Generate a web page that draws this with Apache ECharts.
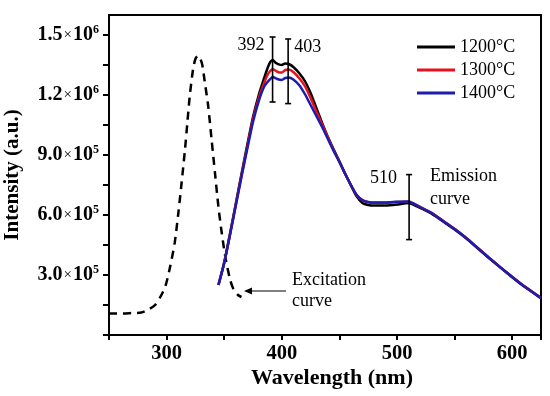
<!DOCTYPE html>
<html>
<head>
<meta charset="utf-8">
<script src="https://cdn.jsdelivr.net/npm/echarts@6/dist/echarts.min.js"></script>
<style>html,body{margin:0;padding:0;background:#fff}#c{width:550px;height:396px}</style>
</head>
<body>
<div id="c"></div>
<script>
// Emission spectra (wavelength nm, intensity a.u.)
const em1200 = [[345,2.5e5],[350,3.62e5],[355,5.05e5],[360,6.55e5],[365,8.05e5],[370,9.5e5],[375,1.09e6],[380,1.2e6],[385,1.29e6],[388,1.34e6],[390,1.365e6],[392,1.375e6],[395,1.36e6],[398,1.352e6],[400,1.35e6],[403,1.358e6],[406,1.355e6],[410,1.34e6],[415,1.31e6],[420,1.27e6],[425,1.21e6],[430,1.135e6],[435,1.06e6],[440,9.9e5],[445,9.28e5],[450,8.68e5],[455,8.07e5],[460,7.48e5],[465,6.93e5],[470,6.6e5],[475,6.5e5],[480,6.47e5],[490,6.47e5],[500,6.52e5],[510,6.6e5],[515,6.5e5],[520,6.36e5],[525,6.22e5],[530,6.07e5],[540,5.68e5],[550,5.27e5],[560,4.83e5],[570,4.33e5],[580,3.84e5],[590,3.36e5],[600,2.89e5],[610,2.44e5],[620,2.04e5],[625,1.84e5]];
const em1300 = [[345,2.5e5],[350,3.6e5],[355,5.02e5],[360,6.5e5],[365,7.98e5],[370,9.4e5],[375,1.078e6],[380,1.185e6],[385,1.265e6],[388,1.305e6],[390,1.32e6],[392,1.33e6],[395,1.32e6],[398,1.312e6],[400,1.312e6],[403,1.325e6],[406,1.328e6],[410,1.315e6],[415,1.285e6],[420,1.245e6],[425,1.185e6],[430,1.118e6],[435,1.052e6],[440,9.87e5],[445,9.24e5],[450,8.66e5],[455,8.06e5],[460,7.5e5],[465,7.0e5],[470,6.74e5],[475,6.64e5],[480,6.61e5],[490,6.61e5],[500,6.65e5],[510,6.68e5],[515,6.56e5],[520,6.41e5],[525,6.26e5],[530,6.11e5],[540,5.71e5],[550,5.31e5],[560,4.86e5],[570,4.36e5],[580,3.86e5],[590,3.38e5],[600,2.91e5],[610,2.46e5],[620,2.06e5],[625,1.86e5]];
const em1400 = [[345,2.5e5],[350,3.6e5],[355,5.0e5],[360,6.45e5],[365,7.9e5],[370,9.3e5],[375,1.065e6],[380,1.17e6],[385,1.245e6],[390,1.28e6],[392,1.29e6],[396,1.28e6],[400,1.275e6],[403,1.285e6],[406,1.288e6],[410,1.278e6],[415,1.25e6],[420,1.205e6],[425,1.15e6],[430,1.095e6],[435,1.04e6],[440,9.8e5],[445,9.2e5],[450,8.65e5],[455,8.05e5],[460,7.5e5],[465,7.0e5],[470,6.75e5],[475,6.65e5],[480,6.62e5],[490,6.62e5],[500,6.66e5],[510,6.68e5],[515,6.55e5],[520,6.4e5],[525,6.25e5],[530,6.1e5],[540,5.7e5],[550,5.3e5],[560,4.85e5],[570,4.35e5],[580,3.85e5],[590,3.37e5],[600,2.9e5],[610,2.45e5],[620,2.05e5],[625,1.85e5]];
// Excitation spectrum
const excitation = [[250,1.08e5],[262,1.08e5],[270,1.1e5],[278,1.12e5],[285,1.3e5],[290,1.5e5],[295,1.95e5],[299,2.45e5],[303,3.4e5],[307,4.6e5],[310,6.0e5],[313,7.6e5],[316,9.3e5],[318,1.06e6],[320,1.19e6],[323,1.33e6],[325,1.38e6],[327,1.395e6],[329,1.385e6],[331,1.35e6],[333,1.27e6],[336,1.15e6],[339,9.8e5],[342,8.1e5],[345,6.4e5],[348,5.05e5],[351,3.9e5],[355,2.8e5],[358,2.3e5],[362,2.0e5],[365,1.9e5]];
// Peak markers: [wavelength, low, high]
const peakBars = [[392,1.165e6,1.49e6],[405.5,1.157e6,1.48e6],[510.5,4.77e5,8.02e5]];
const peakLabels = ['392','403','510'];
const seriesNames = ['1200°C','1300°C','1400°C'];
const xTickLabels = [300,400,500,600];
const yTickLabels = [3e5,6e5,9e5,1.2e6,1.5e6];
const yTicks = [0,1.5e5,3e5,4.5e5,6e5,7.5e5,9e5,1.05e6,1.2e6,1.35e6,1.5e6];

const SERIF = '"Liberation Serif","Times New Roman",serif';
const chart = echarts.init(document.getElementById('c'));
const colors = ['#000000','#e8101c','#1c1cb0'];

chart.setOption({
  animation:false,
  grid:{left:109,right:9,top:15,bottom:61,show:true,borderColor:'#000',borderWidth:2,outerBoundsMode:'none',containLabel:false},
  legend:{
    data:seriesNames, orient:'vertical', left:412, top:33, itemWidth:38, itemHeight:12, itemGap:5,
    icon:'path://M0,5L38,5L38,8L0,8Z',
    textStyle:{fontFamily:SERIF,fontSize:18,color:'#000'}
  },
  xAxis:{
    type:'value', min:250, max:625, interval:50,
    name:'Wavelength (nm)', nameLocation:'middle', nameGap:32, nameMoveOverlap:false,
    nameTextStyle:{fontFamily:SERIF,fontWeight:'bold',fontSize:22,color:'#000',padding:[0,0,0,14]},
    axisLine:{lineStyle:{color:'#000',width:2}},
    axisTick:{inside:false,length:5,lineStyle:{color:'#000',width:2}},
    axisLabel:{customValues:xTickLabels,margin:8,fontFamily:SERIF,fontWeight:'bold',fontSize:20.5,color:'#000'},
    splitLine:{show:false}
  },
  yAxis:{
    type:'value', min:0, max:1.6e6,
    name:'Intensity (a.u.)', nameLocation:'middle', nameGap:86, nameMoveOverlap:false,
    nameTextStyle:{fontFamily:SERIF,fontWeight:'bold',fontSize:21,color:'#000'},
    axisLine:{lineStyle:{color:'#000',width:2}},
    axisTick:{customValues:yTicks,length:6,lineStyle:{color:'#000',width:2}},
    axisLabel:{
      customValues:yTickLabels, margin:10,
      formatter:function(v){
        const e=Math.floor(Math.log10(v)+1e-9); const m=v/Math.pow(10,e);
        return '{m|'+m.toFixed(1)+'}{x|×}{m|10}{s|'+e+'}';
      },
      rich:{
        m:{fontFamily:SERIF,fontWeight:'bold',fontSize:20,color:'#000',lineHeight:22},
        x:{fontFamily:SERIF,fontSize:15,color:'#000',padding:[0,1,0,1]},
        s:{fontFamily:SERIF,fontWeight:'bold',fontSize:12,color:'#000',verticalAlign:'top',lineHeight:22,padding:[0,0,10,0]}
      }
    },
    splitLine:{show:false}
  },
  series:[
    {name:'Excitation',type:'line',data:excitation,showSymbol:false,smooth:0.25,
     lineStyle:{color:'#000',width:2.5,type:[8,6]},z:2},
    {name:seriesNames[0],type:'line',data:em1200,showSymbol:false,smooth:0.2,lineStyle:{color:colors[0],width:2.5},itemStyle:{color:colors[0]},z:3},
    {name:seriesNames[1],type:'line',data:em1300,showSymbol:false,smooth:0.2,lineStyle:{color:colors[1],width:2.5},itemStyle:{color:colors[1]},z:4},
    {name:seriesNames[2],type:'line',data:em1400,showSymbol:false,smooth:0.2,lineStyle:{color:colors[2],width:2.5},itemStyle:{color:colors[2]},z:5},
    {type:'custom',z:10,data:peakBars,
     renderItem:function(params,api){
       const x=api.value(0), lo=api.value(1), hi=api.value(2);
       const p1=api.coord([x,lo]), p2=api.coord([x,hi]);
       const i=params.dataIndex; const w=3;
       const st={stroke:'#000',lineWidth:1.6};
       const right=(i===1);
       const tx=right? p2[0]+6 : p2[0]-(i===2?12:8);
       const ty=p2[1]+(i===2?4:8);
       return {type:'group',children:[
         {type:'line',shape:{x1:p1[0],y1:p1[1],x2:p2[0],y2:p2[1]},style:st},
         {type:'line',shape:{x1:p1[0]-w,y1:p1[1],x2:p1[0]+w,y2:p1[1]},style:st},
         {type:'line',shape:{x1:p2[0]-w,y1:p2[1],x2:p2[0]+w,y2:p2[1]},style:st},
         {type:'text',x:tx,y:ty,style:{text:peakLabels[i],font:'18px '+SERIF,fill:'#000',align:right?'left':'right',verticalAlign:'middle'}}
       ]};
     }}
  ],
  graphic:[
    {type:'text',left:430,top:165,style:{text:'Emission\ncurve',font:'18px '+SERIF,fill:'#000',lineHeight:23}},
    {type:'text',left:292,top:270,style:{text:'Excitation\ncurve',font:'18px '+SERIF,fill:'#000',lineHeight:21}},
    {type:'line',shape:{x1:286,y1:291,x2:250,y2:291},style:{stroke:'#000',lineWidth:1.2}},
    {type:'polygon',shape:{points:[[244,291],[252,287.5],[252,294.5]]},style:{fill:'#000'}}
  ]
});
</script>
</body>
</html>
